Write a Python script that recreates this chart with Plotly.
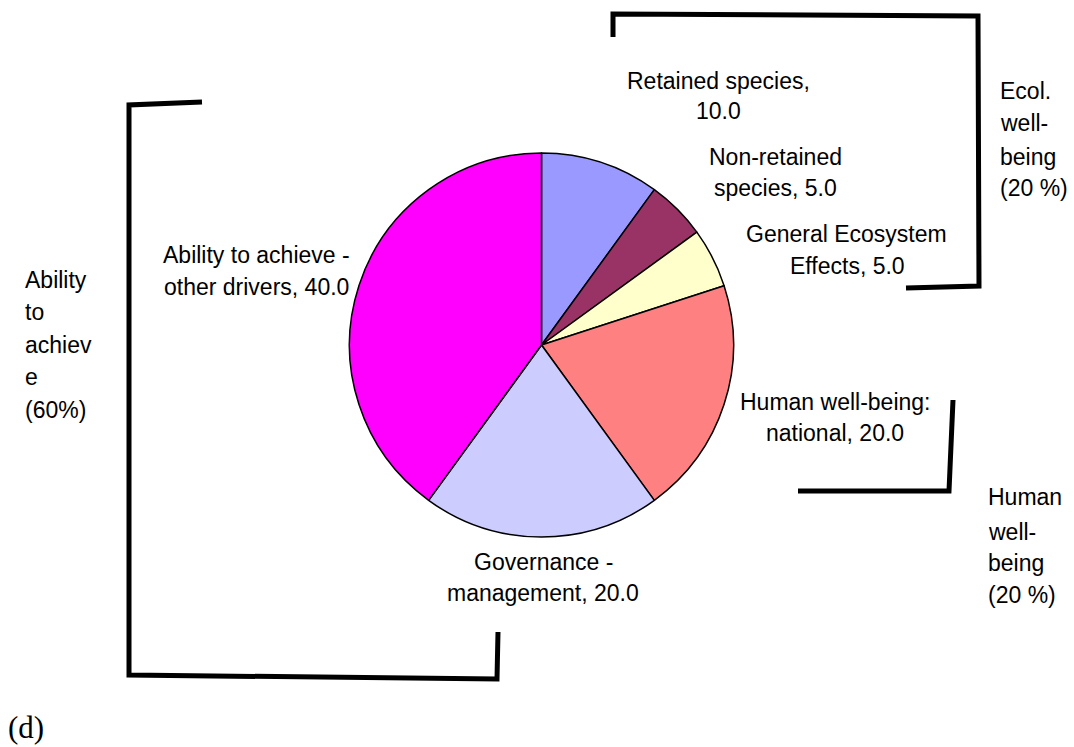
import plotly.graph_objects as go

# ---- data ----
categories = ["Retained species", "Non-retained species", "General Ecosystem Effects",
              "Human well-being: national", "Governance - management",
              "Ability to achieve - other drivers"]
values = [10.0, 5.0, 5.0, 20.0, 20.0, 40.0]
colors = ["#9999FF", "#993366", "#FFFFCC", "#FF8080", "#CCCCFF", "#FF00FF"]

# slice label lines (text, centre x px, centre y px)
slice_labels = [
    ("Retained species,", 718, 81), ("10.0", 718, 111),
    ("Non-retained", 775, 157), ("species, 5.0", 775, 188),
    ("General Ecosystem", 846, 234), ("Effects, 5.0", 847, 266),
    ("Human well-being:", 835, 402), ("national, 20.0", 835, 433),
    ("Governance -", 543, 562), ("management, 20.0", 543, 593),
    ("Ability to achieve -", 256, 255), ("other drivers, 40.0", 256, 287),
]
# group labels (text, left x px, centre y px)
group_labels = [
    ("Ecol.", 998, 91), ("well-", 998, 123), ("being", 998, 157), ("(20 %)", 998, 188),
    ("Human", 986, 497), ("well-", 986, 532), ("being", 986, 563), ("(20 %)", 986, 595),
    ("Ability", 23, 280), ("to", 23, 312), ("achiev", 23, 345), ("e", 23, 377), ("(60%)", 23, 410),
]
brackets = [
    "M 613,37 L 613,14 L 978,16 L 979,286 L 906,288",
    "M 953,400 L 949,491 L 798,491",
    "M 202,102 L 129,105 L 129,675 L 497,679 L 498,632",
]

W, H = 1074, 747
cx, cy, r = 541.5, 345, 192

fig = go.Figure()
fig.add_trace(go.Pie(
    labels=categories, values=values, sort=False, direction="clockwise", rotation=0,
    marker=dict(colors=colors, line=dict(color="black", width=1.5)),
    textinfo="none", hoverinfo="label+value", showlegend=False,
    domain=dict(x=[(cx - r) / W, (cx + r) / W], y=[(H - cy - r) / H, (H - cy + r) / H]),
))

font = dict(family="Liberation Sans, Arial, sans-serif", size=23, color="black")
annotations = []
for t, x, y in slice_labels:
    annotations.append(dict(text=t, x=x, y=y, xref="x", yref="y", xanchor="center",
                            yanchor="middle", showarrow=False, font=font))
for t, x, y in group_labels:
    annotations.append(dict(text=t, x=x, y=y, xref="x", yref="y", xanchor="left",
                            yanchor="middle", showarrow=False, font=font))
annotations.append(dict(text="(d)", x=6, y=727, xref="x", yref="y", xanchor="left",
                        yanchor="middle", showarrow=False,
                        font=dict(family="Liberation Serif, Times New Roman, serif", size=31, color="black")))

shapes = [dict(type="path", path=p, xref="x", yref="y", line=dict(color="black", width=5))
          for p in brackets]

fig.update_layout(
    width=W, height=H, margin=dict(l=0, r=0, t=0, b=0),
    paper_bgcolor="white", plot_bgcolor="white",
    xaxis=dict(range=[0, W], visible=False, fixedrange=True),
    yaxis=dict(range=[H, 0], visible=False, fixedrange=True),
    annotations=annotations, shapes=shapes,
)

fig.write_html("out.html", config={"displayModeBar": False},
               post_script="document.body.style.margin='0';")
